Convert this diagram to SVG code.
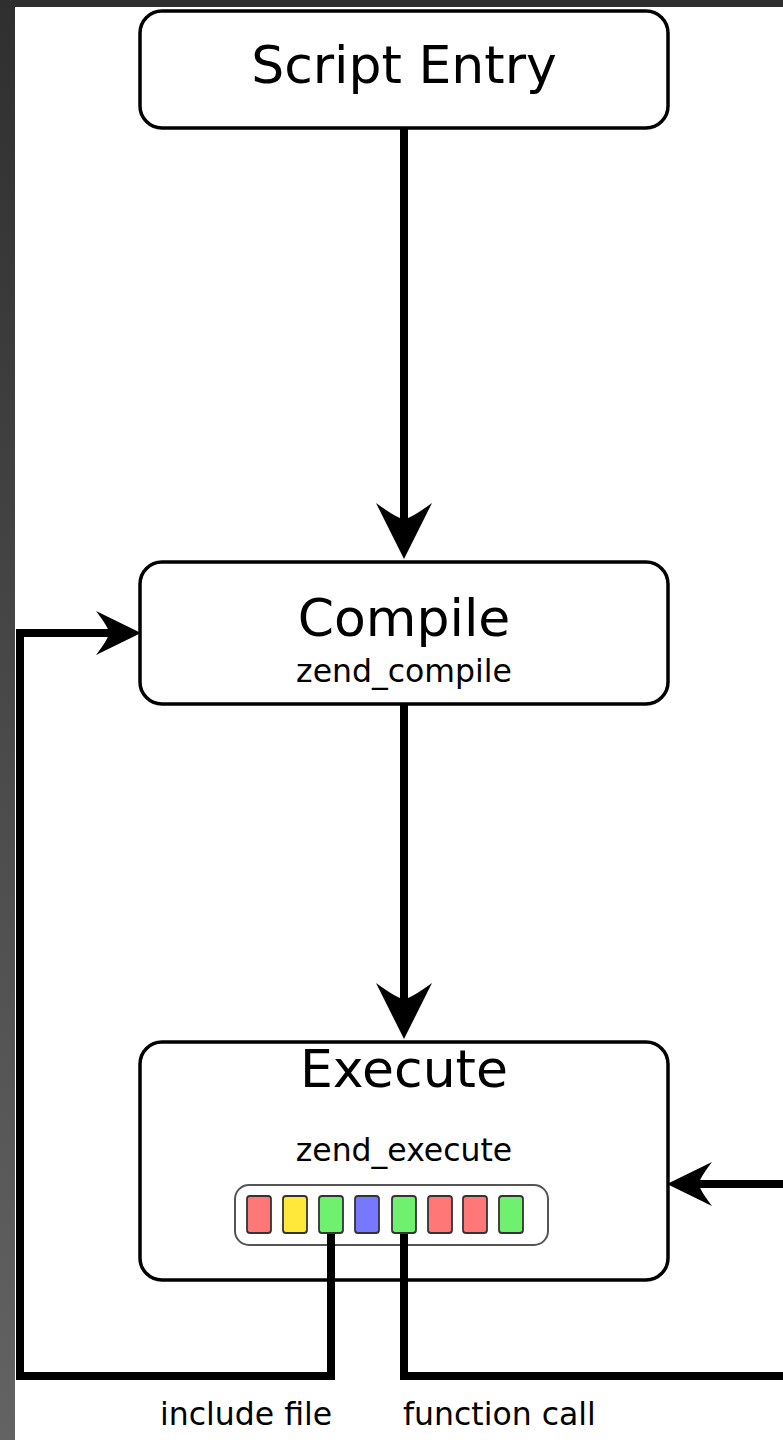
<svg xmlns="http://www.w3.org/2000/svg" width="783" height="1440" viewBox="0 0 783 1440">
  <defs>
    <linearGradient id="frame" x1="0" y1="0" x2="0" y2="1">
      <stop offset="0" stop-color="#2f2f2f"/>
      <stop offset="1" stop-color="#636363"/>
    </linearGradient>
    <marker id="bigHead" markerUnits="userSpaceOnUse" markerWidth="56" markerHeight="56" viewBox="0 0 56 56" refX="30" refY="28" orient="auto">
      <path d="M56,28 L0,0 Q16,22 16,28 Q16,34 0,56 Z" fill="#000"/>
    </marker>
    <marker id="smallHead" markerUnits="userSpaceOnUse" markerWidth="45" markerHeight="44" viewBox="0 0 45 44" refX="22" refY="22" orient="auto">
      <path d="M45,22 L0,0 Q13,17 13,22 Q13,27 0,44 Z" fill="#000"/>
    </marker>
  </defs>
  <style>
    .box { fill: #fff; stroke: #000; stroke-width: 3.5; }
    .title { font-family: "DejaVu Sans", "Liberation Sans", sans-serif; font-size: 52px; fill: #000; text-anchor: middle; }
    .sub { font-family: "DejaVu Sans", "Liberation Sans", sans-serif; font-size: 31.5px; fill: #000; text-anchor: middle; }
    .label { font-family: "DejaVu Sans", "Liberation Sans", sans-serif; font-size: 31.5px; fill: #000; }
    .wire { fill: none; stroke: #000; stroke-width: 8; stroke-linejoin: miter; }
    .slots { fill: #fff; stroke: #555; stroke-width: 2; }
    .cell { stroke: #333; stroke-width: 1.8; }
    .red { fill: #ff7777; }
    .yellow { fill: #ffe83a; }
    .green { fill: #6ff06f; }
    .blue { fill: #7777ff; }
  </style>

  <rect x="0" y="0" width="783" height="1440" fill="#fff"/>
  <rect x="0" y="0" width="15" height="1440" fill="url(#frame)"/>
  <rect x="0" y="0" width="783" height="7" fill="#2f2f2f"/>

  <g id="node-script-entry">
    <rect class="box" x="140" y="11" width="528" height="117" rx="22"/>
    <text class="title" x="404" y="83">Script Entry</text>
  </g>

  <g id="node-compile">
    <rect class="box" x="140" y="562" width="528" height="142" rx="22"/>
    <text class="title" x="404" y="636">Compile</text>
    <text class="sub" x="404" y="682">zend_compile</text>
  </g>

  <g id="node-execute">
    <rect class="box" x="140" y="1042" width="528" height="238" rx="22"/>
    <text class="title" x="404" y="1087">Execute</text>
    <text class="sub" x="404" y="1161">zend_execute</text>
    <g id="opcode-array">
      <rect class="slots" x="235" y="1185" width="313" height="60" rx="14"/>
      <rect class="cell red" x="247" y="1196" width="24" height="37" rx="3"/>
      <rect class="cell yellow" x="283" y="1196" width="24" height="37" rx="3"/>
      <rect class="cell green" x="319" y="1196" width="24" height="37" rx="3"/>
      <rect class="cell blue" x="355" y="1196" width="24" height="37" rx="3"/>
      <rect class="cell green" x="392" y="1196" width="24" height="37" rx="3"/>
      <rect class="cell red" x="428" y="1196" width="24" height="37" rx="3"/>
      <rect class="cell red" x="463" y="1196" width="24" height="37" rx="3"/>
      <rect class="cell green" x="499" y="1196" width="24" height="37" rx="3"/>
    </g>
  </g>

  <g id="connectors">
    <path class="wire" d="M404,128 V533" marker-end="url(#bigHead)"/>
    <path class="wire" d="M404,705 V1013" marker-end="url(#bigHead)"/>
    <path class="wire" d="M331,1234 V1376 H20 V633 H118" marker-end="url(#smallHead)"/>
    <path class="wire" d="M404,1234 V1376 H792 V1184 H690" marker-end="url(#smallHead)"/>
  </g>

  <g id="labels">
    <text class="label" x="160" y="1425">include file</text>
    <text class="label" x="403" y="1425">function call</text>
  </g>
</svg>
